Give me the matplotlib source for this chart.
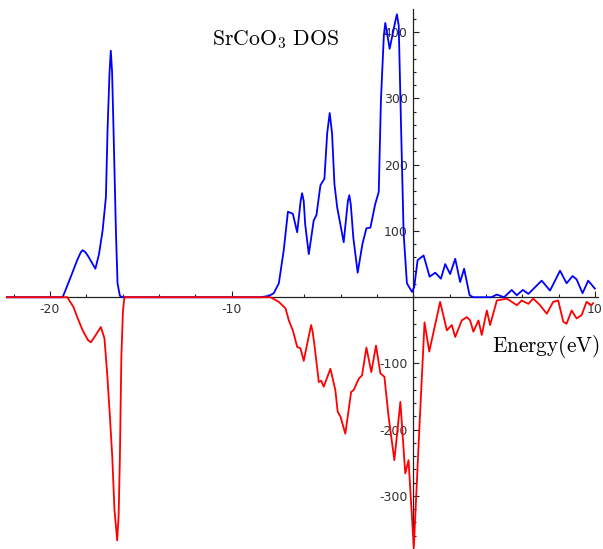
import numpy as np
import matplotlib
matplotlib.use('Agg')
import matplotlib.pyplot as plt
from matplotlib.ticker import MultipleLocator, FixedLocator

plt.rcParams['mathtext.fontset'] = 'cm'
plt.rcParams['axes.unicode_minus'] = False

# spin up DOS
up_e = [-22.4, -19.3, -18.85, -18.5, -18.3, -18.2, -18.05, -17.9, -17.5, -17.3, -17.1, -16.92,
        -16.83, -16.72, -16.65, -16.58, -16.5, -16.37, -16.28, -16.15, -16.0,
        -8.4, -7.95, -7.68, -7.4, -7.13, -6.9, -6.63, -6.39, -6.2, -6.12, -6.03, -5.95, -5.75,
        -5.48, -5.33, -5.11, -4.89, -4.74, -4.6, -4.47, -4.34, -4.19, -3.83, -3.6, -3.52, -3.44,
        -3.3, -3.06, -2.8, -2.58, -2.36, -2.1, -1.9, -1.78, -1.62, -1.54, -1.45, -1.3, -1.0,
        -0.9, -0.8, -0.68, -0.53, -0.35, -0.07, 0.05, 0.24, 0.57, 0.9, 1.21, 1.52, 1.76,
        2.03, 2.31, 2.58, 2.8, 3.1, 3.3, 4.3, 4.6, 5.0, 5.42, 5.7, 6.03, 6.34, 6.7, 7.07,
        7.53, 8.08, 8.44, 8.77, 8.99, 9.32, 9.63, 10.0]
up_dos = [0, 0, 31, 56, 68, 71, 68, 62, 43, 65, 101, 151,
          252, 340, 372, 340, 252, 101, 21, 2, 0,
          0, 2, 6, 21, 71, 129, 126, 98, 145, 157, 145, 110, 65,
          116, 124, 169, 179, 247, 278, 247, 171, 136, 83, 145, 154, 140,
          90, 37, 80, 104, 105, 140, 159, 297, 395, 414, 400, 375, 415,
          427, 410, 267, 96, 21, 8, 15, 56, 63, 31, 37, 28, 50,
          35, 58, 23, 43, 3, 0, 0, 4, 0, 11, 3, 11, 5, 15, 25,
          10, 40, 21, 32, 27, 6, 25, 13]

# spin down DOS (plotted negative)
dn_e = [-22.4, -19.05, -18.7, -18.5, -18.2, -17.9, -17.75, -17.5, -17.2, -17.0,
        -16.85, -16.7, -16.57, -16.45, -16.3, -16.22, -16.15, -16.07, -15.98, -15.9,
        -8.4, -7.86, -7.4, -7.03, -6.85, -6.63, -6.39, -6.21, -6.03, -5.7, -5.62, -5.54, -5.44,
        -5.2, -5.07, -4.93, -4.56, -4.29, -4.16, -4.01, -3.74, -3.42, -3.28, -3.0,
        -2.82, -2.58, -2.31, -2.05, -1.81, -1.59, -1.36, -1.04, -0.71, -0.44, -0.26,
        0.03, 0.35, 0.62, 0.88, 1.48, 1.85, 2.12, 2.31, 2.67, 2.95, 3.13, 3.31,
        3.59, 3.77, 4.05, 4.23, 4.6, 5.15, 5.7, 5.97, 6.34, 6.6, 6.98, 7.35, 7.7,
        7.98, 8.26, 8.44, 8.72, 8.99, 9.27, 9.54, 9.82, 9.9]
dn_dos = [0, 0, -15, -30, -50, -65, -68, -58, -45, -62,
          -115, -180, -241, -320, -367, -330, -241, -90, -20, 0,
          0, 0, -7, -17, -35, -50, -75, -77, -96, -52, -42, -52, -72,
          -128, -126, -135, -108, -140, -173, -180, -206, -143, -140, -123,
          -118, -76, -113, -73, -115, -120, -180, -246, -158, -266, -246,
          -378, -190, -38, -82, -7, -50, -42, -60, -35, -30, -35, -52,
          -35, -57, -20, -42, -5, -2, -12, -5, -10, -2, -12, -25, -7,
          -5, -37, -40, -20, -32, -27, -7, -12, -9]

x_labels = [-20, -10, 10]
y_labels = [-300, -200, -100, 100, 200, 300, 400]

fig = plt.figure(figsize=(6.03, 5.49), dpi=100)
ax = fig.add_axes([6/603, 0, 592/603, 540/549])

ax.plot(up_e, up_dos, color='#0000ff', lw=1.3, zorder=3)
ax.plot(dn_e, dn_dos, color='#ff0000', lw=1.3, zorder=3)

ax.set_xlim(-22.42, 10.17)
ax.set_ylim(-380, 435)

ax.spines['left'].set_position(('data', 0))
ax.spines['bottom'].set_position(('data', 0))
ax.spines['top'].set_visible(False)
ax.spines['right'].set_visible(False)
for s in ('left', 'bottom'):
    ax.spines[s].set_color('#222222')
    ax.spines[s].set_linewidth(0.9)

ax.xaxis.set_major_locator(FixedLocator(x_labels))
ax.yaxis.set_major_locator(FixedLocator(y_labels))
ax.xaxis.set_minor_locator(MultipleLocator(2))
ax.yaxis.set_minor_locator(MultipleLocator(20))
ax.tick_params(which='both', direction='in', color='#222222', width=0.8)
ax.tick_params(which='major', length=4.3, labelsize=9, labelcolor='#333333', pad=4)
ax.tick_params(which='minor', length=2.4)

fig.text(276/603, 1 - 40/549, r'$\mathrm{SrCoO_3\ DOS}$', fontsize=15.7,
         ha='center', va='center')
fig.text(546/603, 1 - 347/549, r'$\mathrm{Energy(eV)}$', fontsize=15.3,
         ha='center', va='center')

fig.savefig('out.png', dpi=100)
